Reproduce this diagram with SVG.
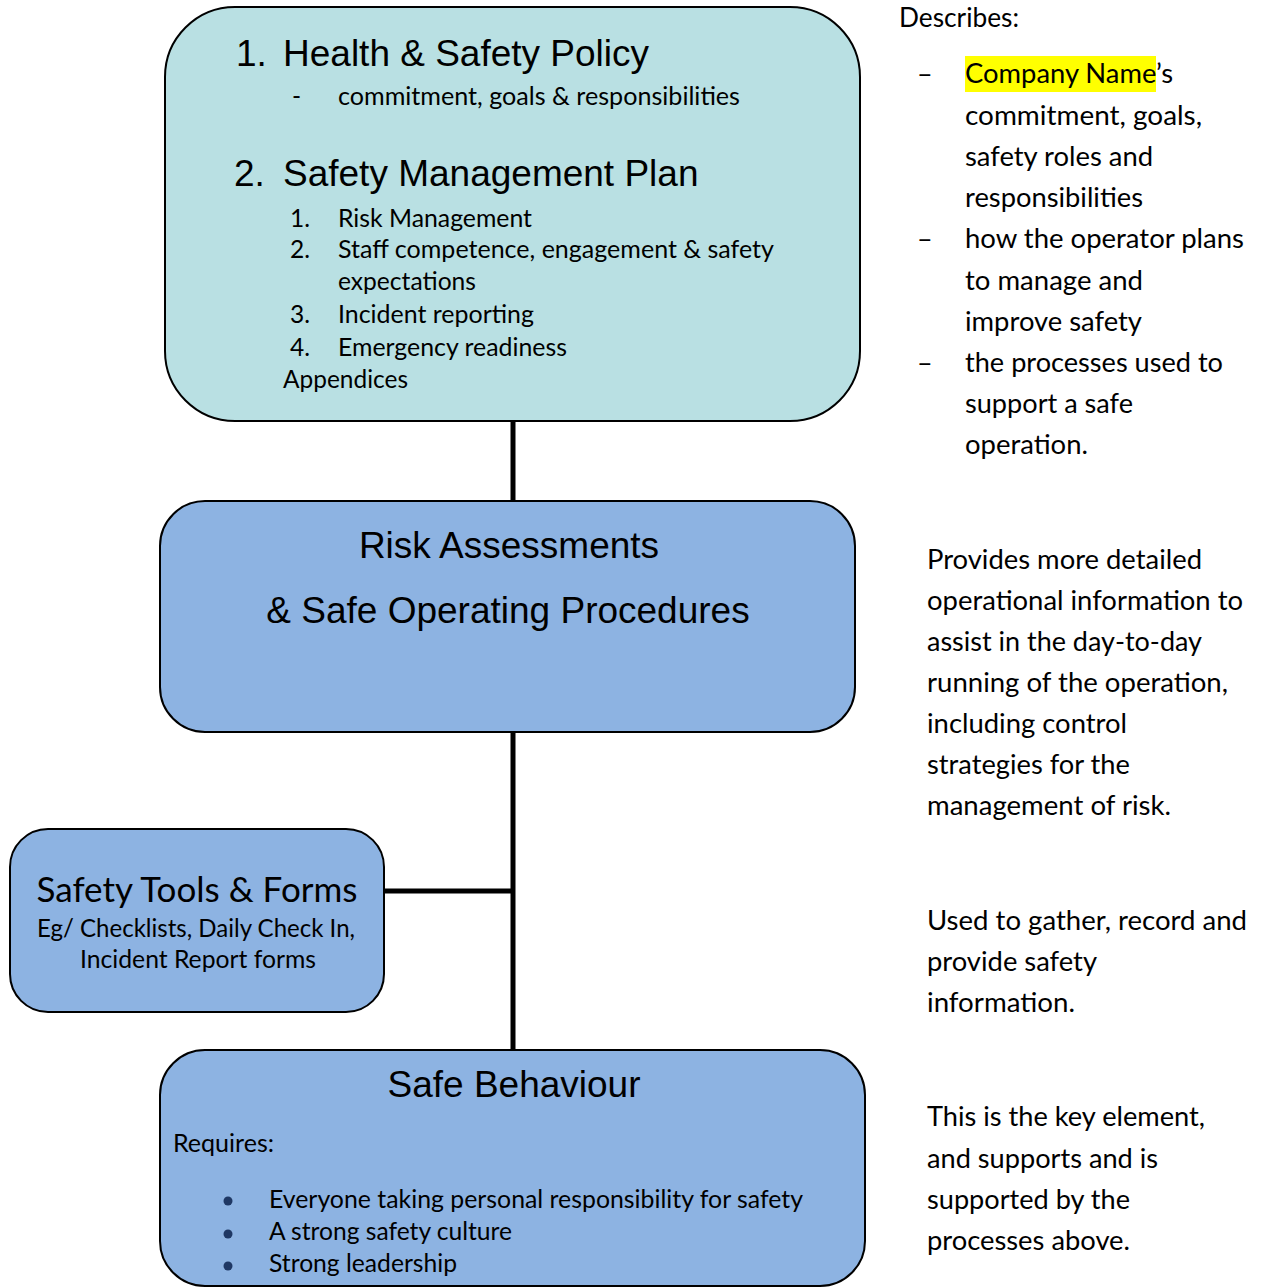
<svg xmlns="http://www.w3.org/2000/svg" width="1261" height="1287" viewBox="0 0 1261 1287">
  <style>
    .box { stroke: #000; stroke-width: 2; }
    .teal { fill: #b9e0e3; }
    .blue { fill: #8db3e2; }
    .head { font-family: "Liberation Sans", Arial, sans-serif; font-size: 37px; fill: #000; }
    .body { font-family: Lato, "Open Sans", sans-serif; font-size: 24.5px; fill: #000; }
    .note { font-family: Lato, "Open Sans", sans-serif; font-size: 27px; fill: #000; }
    .title { font-family: Lato, "Open Sans", sans-serif; font-size: 34px; fill: #000; }
    .wire { stroke: #000; stroke-width: 5; fill: none; }
  </style>
  <defs>
    <clipPath id="behaviourClip">
      <rect x="160" y="1050" width="705" height="227"/>
    </clipPath>
  </defs>
  <rect width="1261" height="1287" fill="#fff"/>

  <!-- connectors -->
  <g id="connectors">
    <line class="wire" x1="513" y1="421" x2="513" y2="501"/>
    <line class="wire" x1="513" y1="732" x2="513" y2="1050"/>
    <line class="wire" x1="384" y1="891" x2="513" y2="891"/>
  </g>

  <!-- policy and plan -->
  <g id="policy-plan">
    <rect class="box teal" x="165" y="7" width="695" height="414" rx="70" ry="70"/>
    <text class="head" x="236" y="66">1.</text>
    <text class="head" x="283" y="66">Health &amp; Safety Policy</text>
    <text class="body" x="292" y="105">-</text>
    <text class="body" x="338" y="105" textLength="402" lengthAdjust="spacingAndGlyphs">commitment, goals &amp; responsibilities</text>
    <text class="head" x="234" y="186">2.</text>
    <text class="head" x="283" y="186">Safety Management Plan</text>
    <text class="body" x="290" y="227">1.</text>
    <text class="body" x="338" y="227" textLength="194" lengthAdjust="spacingAndGlyphs">Risk Management</text>
    <text class="body" x="290" y="258">2.</text>
    <text class="body" x="338" y="258" textLength="436" lengthAdjust="spacingAndGlyphs">Staff competence, engagement &amp; safety</text>
    <text class="body" x="338" y="290" textLength="138" lengthAdjust="spacingAndGlyphs">expectations</text>
    <text class="body" x="290" y="323">3.</text>
    <text class="body" x="338" y="323" textLength="196" lengthAdjust="spacingAndGlyphs">Incident reporting</text>
    <text class="body" x="290" y="356">4.</text>
    <text class="body" x="338" y="356" textLength="229" lengthAdjust="spacingAndGlyphs">Emergency readiness</text>
    <text class="body" x="283" y="388" textLength="125" lengthAdjust="spacingAndGlyphs">Appendices</text>
  </g>

  <!-- risk assessments -->
  <g id="risk-assessments">
    <rect class="box blue" x="160" y="501" width="695" height="231" rx="45" ry="45"/>
    <text class="head" x="509" y="558" text-anchor="middle">Risk Assessments</text>
    <text class="head" x="508" y="623" text-anchor="middle">&amp; Safe Operating Procedures</text>
  </g>

  <!-- tools and forms -->
  <g id="tools-forms">
    <rect class="box blue" x="10" y="829" width="374" height="183" rx="38" ry="38"/>
    <text class="title" x="197" y="902" text-anchor="middle" textLength="321" lengthAdjust="spacingAndGlyphs">Safety Tools &amp; Forms</text>
    <text class="body" x="196" y="937" text-anchor="middle" textLength="318" lengthAdjust="spacingAndGlyphs">Eg/ Checklists, Daily Check In,</text>
    <text class="body" x="198" y="968" text-anchor="middle" textLength="236" lengthAdjust="spacingAndGlyphs">Incident Report forms</text>
  </g>

  <!-- safe behaviour -->
  <g id="safe-behaviour">
    <rect class="box blue" x="160" y="1050" width="705" height="236" rx="45" ry="45"/>
    <text class="head" x="514" y="1097" text-anchor="middle">Safe Behaviour</text>
    <g clip-path="url(#behaviourClip)">
      <text class="body" x="173" y="1152" textLength="101" lengthAdjust="spacingAndGlyphs">Requires:</text>
      <circle cx="228" cy="1201" r="4.5" fill="#1f3864"/>
      <text class="body" x="269" y="1208" textLength="534" lengthAdjust="spacingAndGlyphs">Everyone taking personal responsibility for safety</text>
      <circle cx="228" cy="1234" r="4.5" fill="#1f3864"/>
      <text class="body" x="269" y="1240" textLength="243" lengthAdjust="spacingAndGlyphs">A strong safety culture</text>
      <circle cx="228" cy="1266" r="4.5" fill="#1f3864"/>
      <text class="body" x="269" y="1272" textLength="188" lengthAdjust="spacingAndGlyphs">Strong leadership</text>
    </g>
  </g>

  <!-- side notes -->
  <g id="note-policy">
    <text class="note" x="899" y="27" textLength="120" lengthAdjust="spacingAndGlyphs">Describes:</text>
    <rect x="965" y="56" width="191" height="36" fill="#ffff00"/>
    <text class="note" x="917" y="83">–</text>
    <text class="note" x="965" y="83" textLength="208" lengthAdjust="spacingAndGlyphs">Company Name’s</text>
    <text class="note" x="965" y="125" textLength="237" lengthAdjust="spacingAndGlyphs">commitment, goals,</text>
    <text class="note" x="965" y="166" textLength="188" lengthAdjust="spacingAndGlyphs">safety roles and</text>
    <text class="note" x="965" y="207" textLength="178" lengthAdjust="spacingAndGlyphs">responsibilities</text>
    <text class="note" x="917" y="248">–</text>
    <text class="note" x="965" y="248" textLength="279" lengthAdjust="spacingAndGlyphs">how the operator plans</text>
    <text class="note" x="965" y="290" textLength="178" lengthAdjust="spacingAndGlyphs">to manage and</text>
    <text class="note" x="965" y="331" textLength="177" lengthAdjust="spacingAndGlyphs">improve safety</text>
    <text class="note" x="917" y="372">–</text>
    <text class="note" x="965" y="372" textLength="258" lengthAdjust="spacingAndGlyphs">the processes used to</text>
    <text class="note" x="965" y="413" textLength="168" lengthAdjust="spacingAndGlyphs">support a safe</text>
    <text class="note" x="965" y="454" textLength="123" lengthAdjust="spacingAndGlyphs">operation.</text>
  </g>

  <g id="note-procedures">
    <text class="note" x="927" y="569" textLength="275" lengthAdjust="spacingAndGlyphs">Provides more detailed</text>
    <text class="note" x="927" y="610" textLength="316" lengthAdjust="spacingAndGlyphs">operational information to</text>
    <text class="note" x="927" y="651" textLength="275" lengthAdjust="spacingAndGlyphs">assist in the day-to-day</text>
    <text class="note" x="927" y="692" textLength="301" lengthAdjust="spacingAndGlyphs">running of the operation,</text>
    <text class="note" x="927" y="733" textLength="200" lengthAdjust="spacingAndGlyphs">including control</text>
    <text class="note" x="927" y="774" textLength="203" lengthAdjust="spacingAndGlyphs">strategies for the</text>
    <text class="note" x="927" y="815" textLength="244" lengthAdjust="spacingAndGlyphs">management of risk.</text>
  </g>

  <g id="note-tools">
    <text class="note" x="927" y="930" textLength="320" lengthAdjust="spacingAndGlyphs">Used to gather, record and</text>
    <text class="note" x="927" y="971" textLength="170" lengthAdjust="spacingAndGlyphs">provide safety</text>
    <text class="note" x="927" y="1012" textLength="148" lengthAdjust="spacingAndGlyphs">information.</text>
  </g>

  <g id="note-behaviour">
    <text class="note" x="927" y="1126" textLength="278" lengthAdjust="spacingAndGlyphs">This is the key element,</text>
    <text class="note" x="927" y="1168" textLength="231" lengthAdjust="spacingAndGlyphs">and supports and is</text>
    <text class="note" x="927" y="1209" textLength="203" lengthAdjust="spacingAndGlyphs">supported by the</text>
    <text class="note" x="927" y="1250" textLength="203" lengthAdjust="spacingAndGlyphs">processes above.</text>
  </g>
</svg>
